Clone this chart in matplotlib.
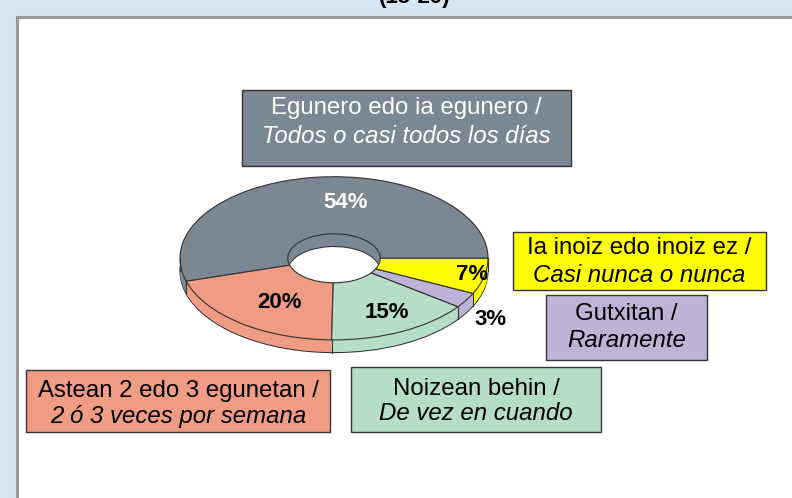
import matplotlib.pyplot as plt
import matplotlib.patches as mpatches
import numpy as np

plt.rcParams['font.family'] = ['Liberation Sans', 'DejaVu Sans']

# datos del grafico (15-29)
title = '(15-29)'
cat_eu = ['Egunero edo ia egunero /', 'Astean 2 edo 3 egunetan /', 'Noizean behin /',
          'Gutxitan /', 'Ia inoiz edo inoiz ez /']
cat_es = ['Todos o casi todos los días', '2 ó 3 veces por semana', 'De vez en cuando',
          'Raramente', 'Casi nunca o nunca']
values = [54, 20, 15, 3, 7]
colors = ['#7b8792', '#f09c85', '#b5ddc8', '#bdb3d7', '#ffff00']

W, H = 792, 498
fig = plt.figure(figsize=(W / 100, H / 100), dpi=100)
fig.patch.set_facecolor('#d5e6f5')

# fondo en pixeles
bg = fig.add_axes([0, 0, 1, 1])
bg.set_xlim(0, W)
bg.set_ylim(H, 0)
bg.axis('off')
bg.add_patch(mpatches.Rectangle((17, 17), 900, 600, facecolor='white',
                                edgecolor='#999999', linewidth=2.2))
bg.text(415, 3, title, ha='center', va='baseline', fontsize=16, fontweight='bold')

# cajas de leyenda (x0, y0, x1, y1) y lineas base del texto
boxes = [(242, 90, 571, 166), (26, 370, 330, 432), (351, 367, 601, 432),
         (546, 295, 707, 360), (513, 232, 766, 290)]
baselines = [(114, 143), (397, 423), (395, 420), (320, 347), (254, 282)]
text_colors = ['white', 'black', 'black', 'black', 'black']

for i in range(len(values)):
    x0, y0, x1, y1 = boxes[i]
    bg.add_patch(mpatches.Rectangle((x0, y0), x1 - x0, y1 - y0, facecolor=colors[i],
                                    edgecolor='#333333', linewidth=1))
    xc = (x0 + x1) / 2
    bg.text(xc, baselines[i][0], cat_eu[i], ha='center', va='baseline',
            fontsize=17.3, color=text_colors[i])
    bg.text(xc, baselines[i][1], cat_es[i], ha='center', va='baseline',
            fontsize=17.3, color=text_colors[i], style='italic')

# pastel 3D (donut): radio 1 = 154 px en x, 81.6 px en y
cx, cy, a, b = 334, 258.3, 154, 81.6
xl, yt, yb = 1.1, 1.1, 1.4
ax = fig.add_axes([(cx - xl * a) / W, (H - (cy + yb * b)) / H,
                   2 * xl * a / W, (yt + yb) * b / H])
ax.patch.set_alpha(0)

depth = 12.7 / b
ring = 0.7

# capa inferior con borde
ax.pie(values, colors=colors, startangle=0, counterclock=True, center=(0, -depth),
       wedgeprops=dict(width=ring, edgecolor='#333333', linewidth=0.8))
for off in np.linspace(-depth + 0.01, -0.005, 25):
    ax.pie(values, colors=colors, startangle=0, counterclock=True, center=(0, off),
           wedgeprops=dict(width=ring, edgecolor='none', linewidth=0))

# lineas verticales del lateral
bounds = np.concatenate([[0], np.cumsum(values)]) / sum(values) * 360
for t in list(bounds) + [180]:
    r = np.deg2rad(t)
    if np.sin(r) <= 1e-9:
        ax.plot([np.cos(r), np.cos(r)], [np.sin(r), np.sin(r) - depth],
                color='#333333', linewidth=0.8)

# cara superior
ax.pie(values, colors=colors, startangle=0, counterclock=True, center=(0, 0),
       wedgeprops=dict(width=ring, edgecolor='#333333', linewidth=0.8))

ax.set_aspect('auto')
ax.set_xlim(-xl, xl)
ax.set_ylim(-yb, yt)
ax.axis('off')

# etiquetas de porcentaje (encima del pastel)
label_pos = [(346, 208), (280, 308), (387, 318), (490, 325), (472, 280)]
label_col = ['white', 'black', 'black', 'black', 'black']
for i, v in enumerate(values):
    fig.text(label_pos[i][0] / W, 1 - label_pos[i][1] / H, '%d%%' % v, ha='center',
             va='baseline', fontsize=16, fontweight='bold', color=label_col[i])

fig.savefig('out.png', dpi=100, facecolor=fig.get_facecolor())
